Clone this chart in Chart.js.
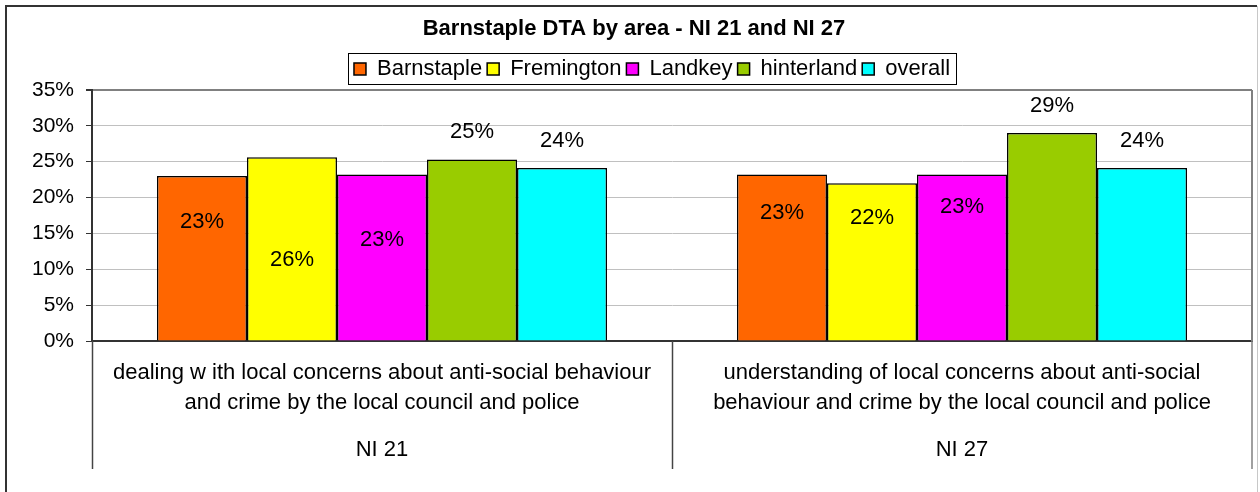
<!DOCTYPE html>
<html>
<head>
<meta charset="utf-8">
<script src="https://cdn.jsdelivr.net/npm/chart.js@4/dist/chart.umd.min.js"></script>
<style>
  html, body { margin: 0; padding: 0; background: #fff; }
  #wrap { width: 1260px; height: 492px; position: relative; }
</style>
</head>
<body>
<div id="wrap"><canvas id="myChart"></canvas></div>
<script>
// chart data
const categories = [
  ['dealing w ith local concerns about anti-social behaviour', 'and crime by the local council and police'],
  ['understanding of local concerns about anti-social', 'behaviour and crime by the local council and police']
];
const groups = ['NI 21', 'NI 27'];
const areas = ['Barnstaple', 'Fremington', 'Landkey', 'hinterland', 'overall'];
const barnstaple = [0.230, 0.232];
const fremington = [0.256, 0.220];
const landkey = [0.232, 0.232];
const hinterland = [0.253, 0.290];
const overall = [0.241, 0.241];
const yTickLabels = ['0%', '5%', '10%', '15%', '20%', '25%', '30%', '35%'];

const seriesValues = [barnstaple, fremington, landkey, hinterland, overall];
const colours = ['#FF6600', '#FFFF00', '#FF00FF', '#99CC00', '#00FFFF'];
// where each value label sits, px below (+) / above (-) the bar top, like the excel original
const labelShift = [[46, 38], [103, 35], [65, 32], [-28, -27], [-27, -27]];

const FONT = 'Arial, "Liberation Sans", sans-serif';

const excelDecor = {
  id: 'excelDecor',
  afterLayout(chart) {
    // excel put the title and legend a little right of centre
    chart.titleBlock.left += 8;
    chart.titleBlock.right += 8;
    chart.legend.left += 26;
    chart.legend.right += 26;
  },
  afterDraw(chart) {
    const c = chart.ctx;
    const area = chart.chartArea;
    const x = chart.scales.x;
    const x2 = chart.scales.x2;
    c.save();

    // plot right border
    c.strokeStyle = '#808080';
    c.lineWidth = 2;
    c.beginPath();
    c.moveTo(area.right, area.top);
    c.lineTo(area.right, area.bottom);
    c.stroke();

    // category separators below the axis
    const mid = (x.getPixelForValue(0) + x.getPixelForValue(1)) / 2;
    c.strokeStyle = '#444';
    c.lineWidth = 1.5;
    [area.left, mid].forEach(px => {
      c.beginPath();
      c.moveTo(Math.round(px) + 0.5, area.bottom);
      c.lineTo(Math.round(px) + 0.5, x2.bottom);
      c.stroke();
    });
    c.strokeStyle = '#808080';
    c.beginPath();
    c.moveTo(area.right, area.bottom);
    c.lineTo(area.right, x2.bottom);
    c.stroke();

    // value labels
    c.font = '22px ' + FONT;
    c.fillStyle = '#000';
    c.textAlign = 'center';
    c.textBaseline = 'middle';
    chart.data.datasets.forEach((ds, i) => {
      chart.getDatasetMeta(i).data.forEach((bar, j) => {
        c.fillText(Math.round(ds.data[j] * 100) + '%', bar.x, bar.y + labelShift[i][j]);
      });
    });

    // legend frame
    const boxes = chart.legend.legendHitBoxes;
    if (boxes && boxes.length) {
      const l = boxes[0].left - 6;
      const r = boxes[boxes.length - 1].left + boxes[boxes.length - 1].width + 6;
      const cy = boxes[0].top + boxes[0].height / 2;
      c.strokeStyle = '#000';
      c.lineWidth = 1;
      c.strokeRect(Math.round(l) + 0.5, Math.round(cy - 15.5) + 0.5, Math.round(r - l), 31);
    }

    // outer chart frame
    c.strokeStyle = '#333';
    c.lineWidth = 2;
    c.beginPath();
    c.moveTo(6, 492);
    c.lineTo(6, 6);
    c.lineTo(1257, 6);
    c.stroke();
    c.strokeStyle = '#c8c8c8';
    c.lineWidth = 1;
    c.beginPath();
    c.moveTo(1257.5, 6);
    c.lineTo(1257.5, 492);
    c.stroke();
    c.restore();
  }
};

const ctx = document.getElementById('myChart');

new Chart(ctx, {
  type: 'bar',
  data: {
    labels: categories,
    datasets: areas.map((name, i) => ({
      label: name,
      data: seriesValues[i],
      backgroundColor: colours[i],
      borderColor: '#000',
      borderWidth: 1.5,
      categoryPercentage: 0.776,
      barPercentage: 1
    }))
  },
  options: {
    responsive: true,
    maintainAspectRatio: false,
    animation: false,
    layout: { padding: { left: 0, right: 8, top: 0, bottom: 23 } },
    plugins: {
      title: {
        display: true,
        text: 'Barnstaple DTA by area - NI 21 and NI 27',
        color: '#000',
        font: { family: FONT, size: 22, weight: 'bold', lineHeight: 1.2 },
        padding: { top: 16, bottom: 10.5 }
      },
      legend: {
        display: true,
        labels: {
          color: '#000',
          font: { family: FONT, size: 22 },
          boxWidth: 12,
          boxHeight: 12,
          padding: 5
        }
      },
      tooltip: { enabled: false }
    },
    scales: {
      x: {
        type: 'category',
        position: 'bottom',
        weight: 0,
        grid: { display: false, drawTicks: false },
        border: { display: true, color: '#333', width: 2 },
        ticks: {
          color: '#000',
          font: { family: FONT, size: 22, lineHeight: 1.36 },
          padding: 17,
          maxRotation: 0,
          autoSkip: false
        },
        afterFit(scale) { scale.height = 85; }
      },
      x2: {
        type: 'category',
        position: 'bottom',
        weight: 1,
        labels: groups,
        offset: true,
        grid: { display: false, drawTicks: false },
        border: { display: false },
        ticks: {
          color: '#000',
          font: { family: FONT, size: 22, lineHeight: 1.36 },
          padding: 9,
          maxRotation: 0
        },
        afterFit(scale) { scale.height = 43; }
      },
      y: {
        min: 0,
        max: 0.35,
        grid: {
          color: c => (c.tick && c.tick.value >= 0.349 ? '#808080' : '#c0c0c0'),
          lineWidth: c => (c.tick && c.tick.value >= 0.349 ? 2 : 1),
          tickColor: '#333',
          tickLength: 6
        },
        border: { display: true, color: '#333', width: 2 },
        ticks: {
          stepSize: 0.05,
          color: '#000',
          font: { family: FONT, size: 21 },
          padding: 12,
          callback: (v, idx) => yTickLabels[idx]
        },
        afterFit(scale) { scale.width = 92; }
      }
    }
  },
  plugins: [excelDecor]
});
</script>
</body>
</html>
